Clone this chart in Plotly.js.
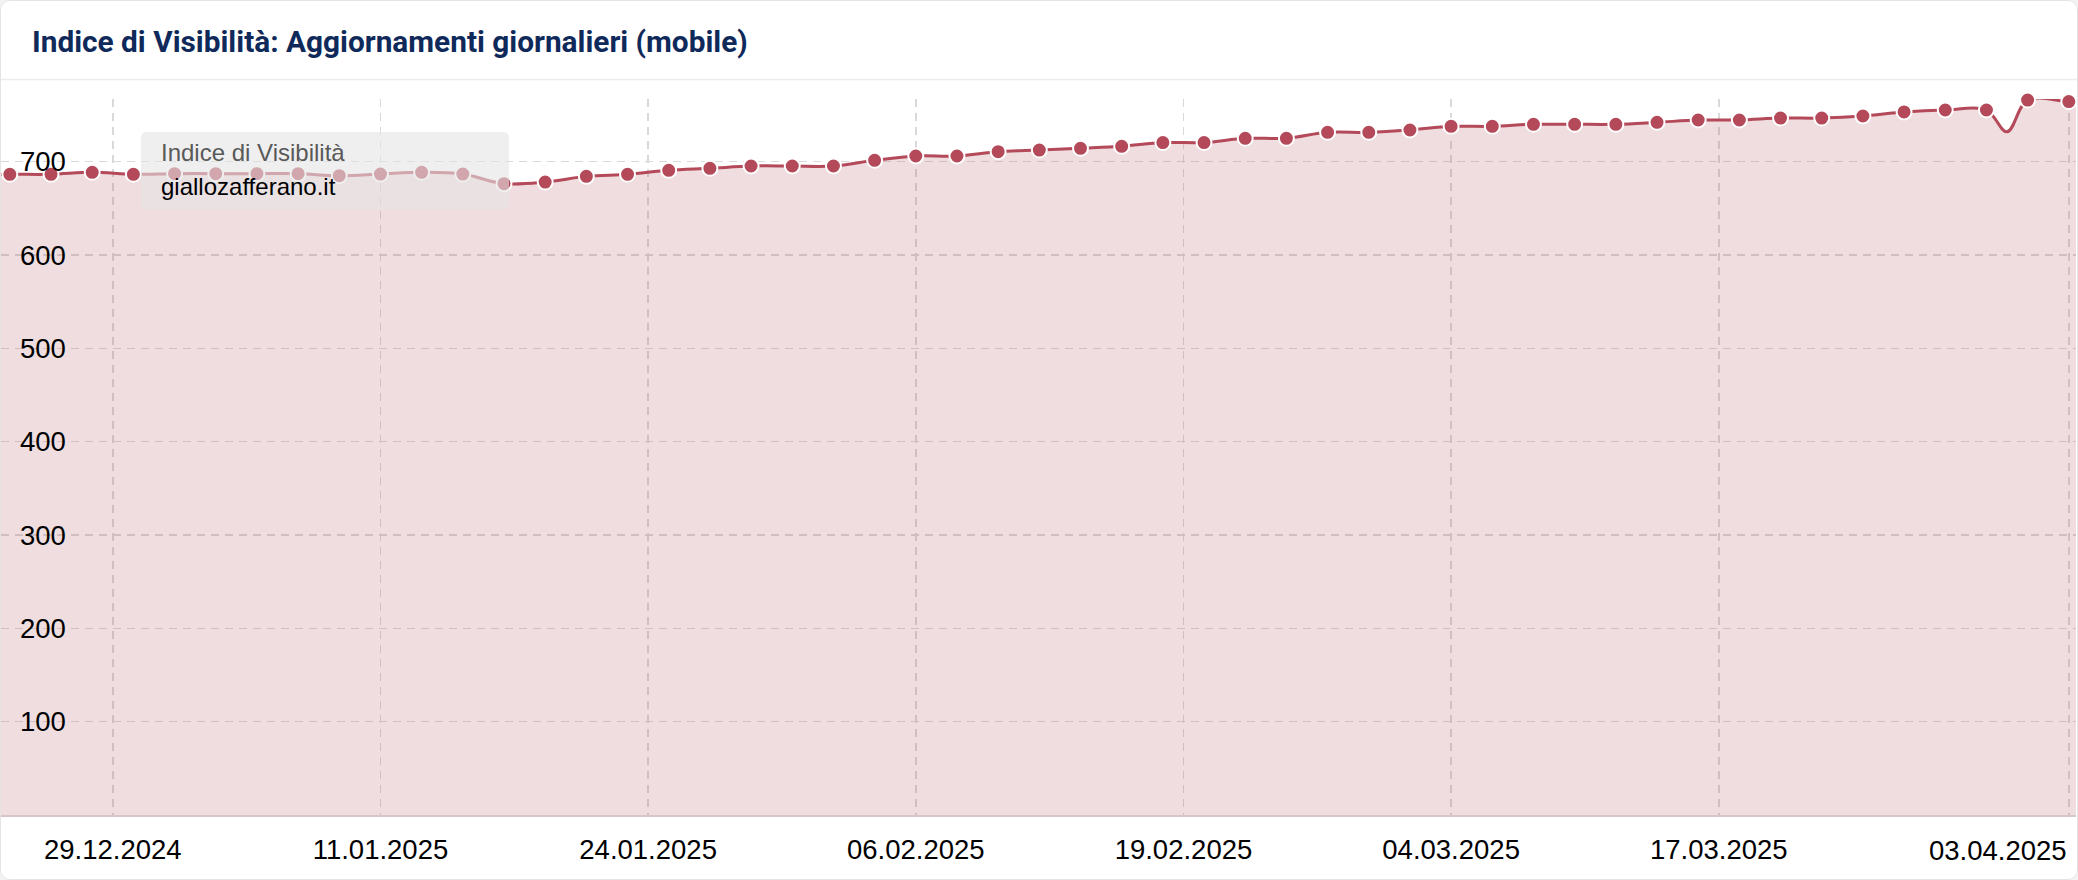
<!DOCTYPE html>
<html><head><meta charset="utf-8">
<script src="https://cdn.plot.ly/plotly-3.0.1.min.js"></script>
<style>
html,body{margin:0;padding:0;background:#f3f3f3;overflow:hidden;}
#chart{position:absolute;left:0;top:0;width:2078px;height:880px;background:#fff;}
#frame{position:absolute;left:0;top:0;width:2078px;height:880px;box-sizing:border-box;border:1px solid #e4e4e4;border-radius:10px;box-shadow:0 0 0 30px #f3f3f3;pointer-events:none;}
</style></head><body>
<div id="chart"></div><div id="frame"></div>
<script>
// ---------- data ----------
const dates = [
 '2024-12-24','2024-12-26','2024-12-28','2024-12-30','2025-01-01','2025-01-03','2025-01-05','2025-01-07',
 '2025-01-09','2025-01-11','2025-01-13','2025-01-15','2025-01-17','2025-01-19','2025-01-21','2025-01-23',
 '2025-01-25','2025-01-27','2025-01-29','2025-01-31','2025-02-02','2025-02-04','2025-02-06','2025-02-08',
 '2025-02-10','2025-02-12','2025-02-14','2025-02-16','2025-02-18','2025-02-20','2025-02-22','2025-02-24',
 '2025-02-26','2025-02-28','2025-03-02','2025-03-04','2025-03-06','2025-03-08','2025-03-10','2025-03-12',
 '2025-03-14','2025-03-16','2025-03-18','2025-03-20','2025-03-22','2025-03-24','2025-03-26','2025-03-28',
 '2025-03-30','2025-04-01','2025-04-03'];
const values = [
 686.5,686.5,688.6,686.5,687.2,687.2,687.2,687.2,
 685.0,686.8,688.6,686.8,676.5,678.2,684.3,686.5,
 690.8,692.9,695.4,695.4,695.4,701.5,706.1,706.1,
 710.8,712.5,714.4,716.5,720.5,720.5,725.1,725.1,
 731.5,731.5,734.0,737.9,737.9,740.1,740.1,740.1,
 742.2,744.7,744.7,746.8,746.8,749.0,753.3,755.4,
 755.4,766.1,764.4];
// line points drawn without a marker (continuation past the edges, unmarked dip)
const lineOnlyDates  = ['2024-12-22','2025-03-31','2025-04-05'];
const lineOnlyValues = [686, 732, 763];
const tickDates  = ['2024-12-29','2025-01-11','2025-01-24','2025-02-06','2025-02-19','2025-03-04','2025-03-17','2025-04-03'];
const tickLabels = ['29.12.2024','11.01.2025','24.01.2025','06.02.2025','19.02.2025','04.03.2025','17.03.2025','03.04.2025'];
const yTicks = [100,200,300,400,500,600,700];
const metricName = 'Indice di Visibilità';
const seriesName = 'giallozafferano.it';
const titleText  = 'Indice di Visibilità: Aggiornamenti giornalieri (mobile)';

// ---------- geometry / style ----------
const W = 2078, H = 880, M = {l:1, r:2, t:99, b:65};
const PW = W - M.l - M.r, PH = H - M.t - M.b;
const px2x = p => (p - M.l) / PW;
const px2y = p => (H - M.b - p) / PH;
const xRange = ['2024-12-23 13:41', '2025-04-03 08:24'];
const yRange = [0, 767.2];
const RED = '#b4495a';
const FILL = 'rgba(170,72,84,0.19)';
const GRID = '#d9d9d9';
const tickFont = {family:'Liberation Sans, Arial, sans-serif', size:27.5, color:'#000'};

// merge line points
const linePts = dates.map((d,i)=>[d, values[i]])
  .concat(lineOnlyDates.map((d,i)=>[d, lineOnlyValues[i]]))
  .sort((a,b)=> a[0] < b[0] ? -1 : 1);

const traces = [
  {type:'scatter', mode:'lines', x: linePts.map(p=>p[0]), y: linePts.map(p=>p[1]),
   line:{color:RED, width:3, shape:'spline', smoothing:1}, cliponaxis:false,
   fill:'tozeroy', fillcolor:FILL, hoverinfo:'skip', showlegend:false, xaxis:'x', yaxis:'y'},
  {type:'scatter', mode:'markers', x: dates, y: values, name: seriesName, cliponaxis:false,
   marker:{size:15, color:RED, line:{color:'#ffffff', width:2}},
   hoverinfo:'skip', showlegend:false, xaxis:'x2', yaxis:'y'}
];

// rounded box for the series label
function roundRect(x0,y0,x1,y1,r){
  const X0=px2x(x0), X1=px2x(x1), Y0=px2y(y0), Y1=px2y(y1);
  const rx=r/PW, ry=r/PH;
  return `M${X0+rx},${Y0} L${X1-rx},${Y0} Q${X1},${Y0} ${X1},${Y0-ry} L${X1},${Y1+ry} Q${X1},${Y1} ${X1-rx},${Y1} L${X0+rx},${Y1} Q${X0},${Y1} ${X0},${Y1+ry} L${X0},${Y0-ry} Q${X0},${Y0} ${X0+rx},${Y0} Z`;
}

const layout = {
  width: W, height: H, margin: M,
  paper_bgcolor:'rgba(0,0,0,0)', plot_bgcolor:'rgba(0,0,0,0)',
  showlegend:false,
  title:{text:titleText, xref:'container', yref:'container', x:32/W, xanchor:'left', y:1-42/H, yanchor:'middle',
         font:{family:'Roboto, sans-serif', size:29.8, weight:700, color:'#0f2a5a'}},
  xaxis:{type:'date', range:xRange, tickmode:'array', tickvals:tickDates,
         ticktext: tickLabels.map((t,i)=> i === tickLabels.length-1 ? '' : t),
         showgrid:true, gridcolor:GRID, gridwidth:1.5, griddash:'8px,6px',
         showline:true, linecolor:'#d3c7c9', linewidth:2, zeroline:false, ticks:'',
         ticklabelstandoff:9, tickfont:tickFont, fixedrange:true},
  xaxis2:{type:'date', overlaying:'x', anchor:'y', side:'bottom', range:xRange, tickmode:'array',
          tickvals:[tickDates[tickDates.length-1]], ticktext:[tickLabels[tickLabels.length-1]],
          ticklabelshift:-71, ticklabelstandoff:16, showgrid:false, zeroline:false, showline:false, ticks:'',
          tickfont:tickFont, fixedrange:true},
  yaxis:{range:yRange, tickmode:'array', tickvals:yTicks, showgrid:true, gridcolor:GRID, gridwidth:1.5,
         griddash:'8px,6px', zeroline:false, showline:false, ticks:'', ticklabelposition:'inside',
         ticklabelstandoff:16, tickfont:tickFont, fixedrange:true},
  shapes:[
    {type:'line', xref:'paper', yref:'paper', x0:-0.01, x1:1.01, y0:px2y(79.5), y1:px2y(79.5),
     line:{color:'#ececec', width:1.5}, layer:'above'},
    {type:'path', xref:'paper', yref:'paper', path: roundRect(141,132,509,210,6),
     fillcolor:'rgba(228,228,228,0.6)', line:{width:0}, layer:'above'}
  ],
  annotations:[
    {xref:'paper', yref:'paper', x:px2x(158.6), y:px2y(152.5), xanchor:'left', yanchor:'middle', showarrow:false,
     text: metricName, font:{family:'Liberation Sans, Arial, sans-serif', size:24, color:'#595959'}},
    {xref:'paper', yref:'paper', x:px2x(158.6), y:px2y(186.7), xanchor:'left', yanchor:'middle', showarrow:false,
     text: seriesName, font:{family:'Liberation Sans, Arial, sans-serif', size:24, color:'#000'}}
  ]
};

Plotly.newPlot('chart', traces, layout, {staticPlot:true, displayModeBar:false});
</script>
</body></html>
